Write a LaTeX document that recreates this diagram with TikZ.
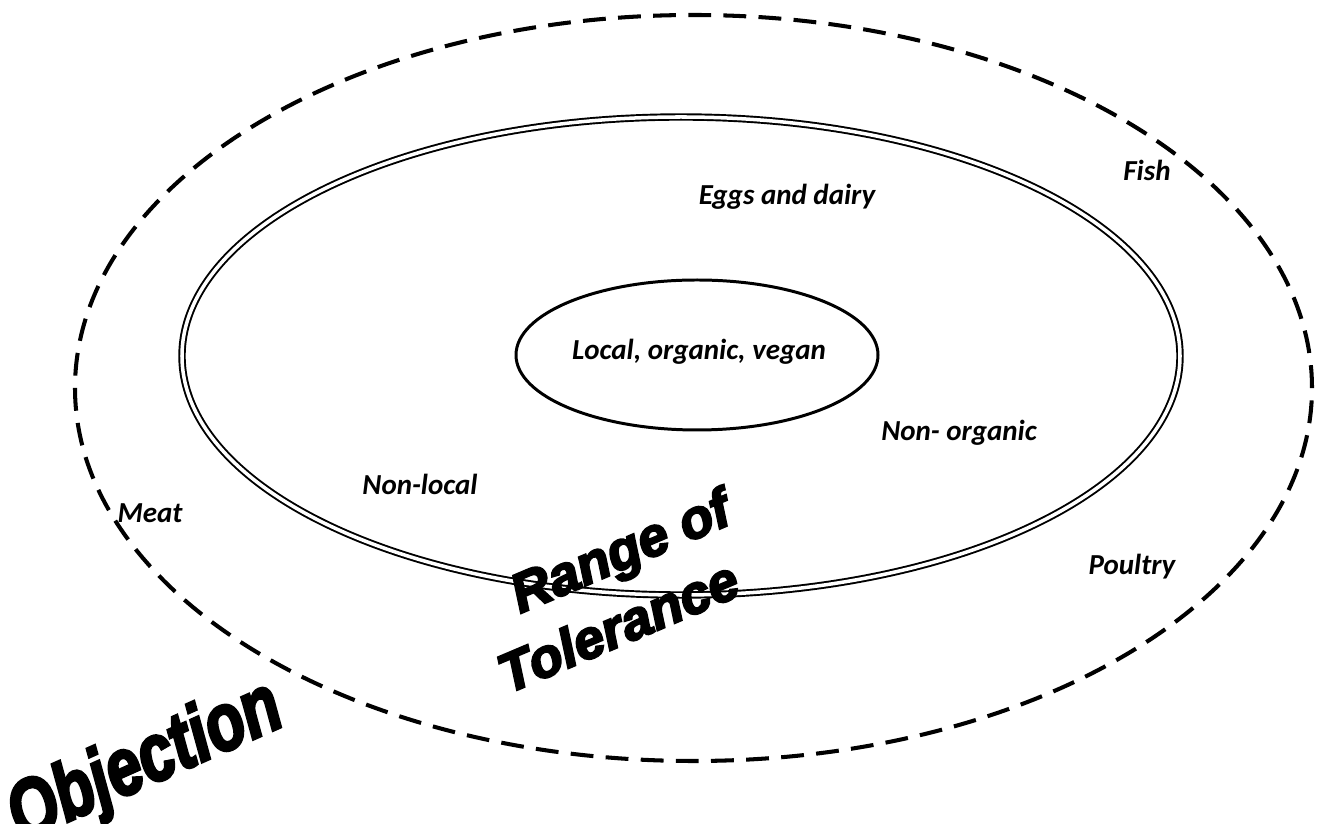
\documentclass[tikz,border=0pt]{standalone}
\usepackage{fontspec}
\setmainfont{Carlito}
\newfontfamily\wordart{Liberation Sans}[FakeBold=4]
\tikzset{
  lbl/.style={font=\bfseries\itshape\fontsize{16.5}{19}\selectfont},
  art/.style={font=\wordart\bfseries\itshape\fontsize{31}{34}\selectfont,inner sep=0pt},
}
\begin{document}
\begin{tikzpicture}
        \useasboundingbox (0,0) rectangle (26.4,16.48);
        %% Rings
        \draw[line width=2.3pt,dash pattern=on 13pt off 7pt] (13.87,8.72) ellipse [x radius=12.37,y radius=7.46];
        \draw[line width=1.1pt,double,double distance=2pt] (13.62,9.36) ellipse [x radius=9.98,y radius=4.78];
        \draw[line width=1.7pt] (13.94,9.38) ellipse [x radius=3.62,y radius=1.5];
        %% Foods
        \node[lbl] (core) at (13.98,9.44) {Local, organic, vegan};
        \node[lbl] (eggs) at (15.74,12.54) {Eggs and dairy};
        \node[lbl] (nonorg) at (19.18,7.82) {Non- organic};
        \node[lbl] (nonloc) at (8.4,6.8) {Non-local};
        \node[lbl] (fish) at (22.94,13.08) {Fish};
        \node[lbl] (meat) at (3.0,6.22) {Meat};
        \node[lbl] (poultry) at (22.64,5.14) {Poultry};
        %% Word art
        \node[art,rotate=23] (range) at (12.44,5.38) {Range of};
        \node[art,rotate=23] (tol) at (12.36,3.96) {Tolerance};
        \node[art,rotate=24,font=\wordart\bfseries\itshape\fontsize{46}{50}\selectfont] (obj) at (2.92,1.2) {\scalebox{0.78}[1]{Objection}};
    \end{tikzpicture}
\end{document}
